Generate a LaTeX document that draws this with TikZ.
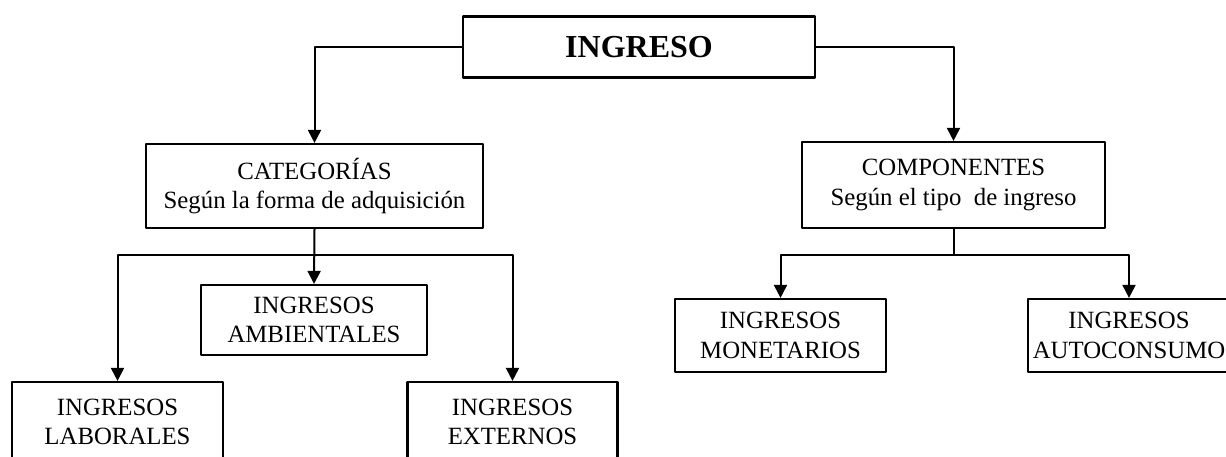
\documentclass[tikz,border=0pt]{standalone}
\usepackage{fontspec}
\setmainfont{Liberation Serif}
\usetikzlibrary{arrows.meta,positioning}
\tikzset{
  every picture/.append style={line cap=round,line join=round},
  ing box/.style={draw,line width=1.1pt,align=center,inner sep=0pt,
    font=\fontsize{12.4}{14.8}\selectfont},
  ing title/.style={ing box,font=\fontsize{16}{18}\selectfont\bfseries},
  ing line/.style={line width=1pt},
  ing arrow/.style={line width=1pt,-{Triangle[length=6.5pt,width=6.5pt]}}
}
\begin{document}
\begin{tikzpicture}[x=0.5pt,y=-0.5pt]
  \useasboundingbox (0,0) rectangle (1226,456);
  \clip (0,0) rectangle (1226,456);
  % top
  \node[ing title,minimum width=176pt,minimum height=30.5pt] (ingreso) at (639,47) {INGRESO};
  % second level
  \node[ing box,minimum width=168.5pt,minimum height=42pt] (categorias) at (314.5,186)
    {CATEGORÍAS\\Según la forma de adquisición};
  \node[ing box,minimum width=151.5pt,minimum height=43pt] (componentes) at (953.5,185)
    {COMPONENTES\\Según el tipo\ \ de ingreso};
  % third level
  \node[ing box,minimum width=113pt,minimum height=35pt] (ambientales) at (314,320)
    {INGRESOS\\AMBIENTALES};
  \node[ing box,minimum width=105.5pt,minimum height=40pt] (laborales) at (117.5,422)
    {INGRESOS\\LABORALES};
  \node[ing box,minimum width=105pt,minimum height=40pt] (externos) at (512.5,422)
    {INGRESOS\\EXTERNOS};
  \node[ing box,minimum width=105.5pt,minimum height=36.5pt] (monetarios) at (780.5,335.5)
    {INGRESOS\\MONETARIOS};
  \node[ing box,minimum width=101pt,minimum height=36.5pt] (autoconsumo) at (1129,335.5)
    {INGRESOS\\AUTOCONSUMO};
  % connectors
  \draw[ing arrow] (ingreso.west) -| (categorias.north);
  \draw[ing arrow] (ingreso.east) -| (componentes.north);
  \path (categorias.south) ++(0,26) coordinate (catbus);
  \path (componentes.south) ++(0,26) coordinate (compbus);
  \draw[ing arrow] (categorias.south) -- (ambientales.north);
  \draw[ing arrow] (catbus) -| (laborales.north);
  \draw[ing arrow] (catbus) -| (externos.north);
  \draw[ing line] (componentes.south) -- (compbus);
  \draw[ing arrow] (compbus) -| (monetarios.north);
  \draw[ing arrow] (compbus) -| (autoconsumo.north);
\end{tikzpicture}
\end{document}
